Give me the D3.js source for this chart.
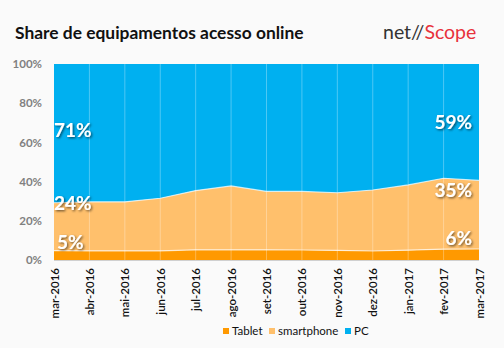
<!DOCTYPE html>
<html><head><meta charset="utf-8">
<script src="https://cdn.jsdelivr.net/npm/d3@7"></script>
<style>
html,body{margin:0;padding:0;background:#fafafa;}
svg{display:block;}
</style></head>
<body>
<svg id="c" width="504" height="348"></svg>
<script>
const months = ["mar-2016","abr-2016","mai-2016","jun-2016","jul-2016","ago-2016","set-2016","out-2016","nov-2016","dez-2016","jan-2017","fev-2017","mar-2017"];
const tablet = [4.8,4.7,4.7,4.7,5.2,5.2,5.2,5.1,4.9,4.6,5.0,5.5,5.6];
const smartphone = [24.4,25.0,25.0,26.8,30.2,32.6,29.8,29.9,29.4,31.1,33.3,36.2,35.0];
const pc = [70.8,70.3,70.3,68.5,64.6,62.2,65.0,65.0,65.7,64.3,61.7,58.3,59.4];
const seriesNames = ["Tablet","smartphone","PC"];
const yTicks = [0,0.2,0.4,0.6,0.8,1];

const colors = {Tablet:"#ff9900", smartphone:"#ffc06c", PC:"#00b0f0"};

const svg = d3.select("#c");
const W=504,H=348;
const m = {l:54, r:25, t:64, b:88};
const x = d3.scalePoint().domain(months).range([m.l, W-m.r]);
const y = d3.scaleLinear().domain([0,1]).range([H-m.b, m.t]);

const defs = svg.append("defs");
const f = defs.append("filter").attr("id","sh").attr("x","-20%").attr("y","-20%").attr("width","150%").attr("height","150%");
f.append("feDropShadow").attr("dx",1.2).attr("dy",1.2).attr("stdDeviation",0.8).attr("flood-color","#000").attr("flood-opacity",0.6);

// title
svg.append("text").attr("x",15).attr("y",39).text("Share de equipamentos acesso online")
  .attr("font-family","Lato, 'Open Sans', sans-serif").attr("font-weight","bold").attr("font-size",17.4).attr("fill","#111");
const logo = svg.append("text").attr("x",383).attr("y",39).attr("font-family","Lato, 'Open Sans', sans-serif").attr("font-size",19.5);
logo.append("tspan").text("net//").attr("fill","#333");
logo.append("tspan").text("Scope").attr("fill","#e8323c");

const table = months.map((mo,i)=>({month:mo, Tablet:tablet[i], smartphone:smartphone[i], PC:pc[i]}));
const stack = d3.stack().keys(seriesNames).offset(d3.stackOffsetExpand);
const layers = stack(table);
const area = d3.area().x(d=>x(d.data.month)).y0(d=>y(d[0])).y1(d=>y(d[1]));

svg.append("g").selectAll("path").data(layers).join("path")
  .attr("d",area).attr("fill",d=>colors[d.key]);
// boundary lines
const line = d3.line().x(d=>x(d.data.month)).y(d=>y(d[1]));
svg.append("g").selectAll("path").data(layers.slice(0,2)).join("path")
  .attr("d",line).attr("fill","none").attr("stroke","#fff").attr("stroke-opacity",0.7).attr("stroke-width",1.2);

// vertical gridlines
svg.append("g").selectAll("line").data(months.slice(1,-1)).join("line")
  .attr("x1",d=>x(d)).attr("x2",d=>x(d)).attr("y1",m.t).attr("y2",H-m.b)
  .attr("stroke","#fff").attr("stroke-opacity",0.3).attr("stroke-width",1);

// axes
const ya = d3.axisLeft(y).tickValues(yTicks).tickFormat(d3.format(".0%")).tickSize(0).tickPadding(12);
const gy = svg.append("g").attr("transform",`translate(${m.l},0)`).call(ya);
gy.select(".domain").remove();
gy.selectAll("text").attr("font-family","Lato, 'Open Sans', sans-serif").attr("font-weight","bold").attr("font-size",11.5).attr("fill","#808080");

svg.append("line").attr("x1",m.l).attr("x2",W-m.r).attr("y1",H-m.b+0.5).attr("y2",H-m.b+0.5).attr("stroke","#d0d0d0");

const xa = d3.axisBottom(x).tickSize(0).tickPadding(0);
const gx = svg.append("g").attr("transform",`translate(0,${H-m.b})`).call(xa);
gx.select(".domain").remove();
gx.selectAll("text").attr("transform","rotate(-90)").attr("text-anchor","end")
  .attr("x",-8).attr("y",0).attr("dy","0.35em")
  .attr("font-family","Lato, 'Open Sans', sans-serif").attr("font-weight",600).attr("font-size",11.5).attr("fill","#111");

// big labels
const first = 0, last = months.length-1;
const labelData = [
  {i:first, key:"PC", anchor:"start"},
  {i:first, key:"smartphone", anchor:"start"},
  {i:first, key:"Tablet", anchor:"start"},
  {i:last, key:"PC", anchor:"end"},
  {i:last, key:"smartphone", anchor:"end"},
  {i:last, key:"Tablet", anchor:"end"}
];
const labelY = {PC:[137,129], smartphone:[210,197], Tablet:[249,245]};
const fmt = d3.format(".0f");
svg.append("g").selectAll("text").data(labelData).join("text")
  .attr("x",d=>d.anchor==="start" ? x(months[d.i]) + (d.key==="Tablet"?3:0) : x(months[d.i]) - 7)
  .attr("y",d=>labelY[d.key][d.i===first?0:1])
  .attr("text-anchor",d=>d.anchor)
  .attr("font-family","Lato, 'Open Sans', sans-serif").attr("font-weight","bold").attr("font-size",19)
  .attr("fill","#fff").attr("filter","url(#sh)")
  .text(d=>fmt(table[d.i][d.key])+"%");

// legend
const lg = svg.append("g").attr("transform","translate(0,331)");
const lx = [223,269,345];
seriesNames.forEach((s,i)=>{
  lg.append("rect").attr("x",lx[i]).attr("y",-3).attr("width",6).attr("height",6).attr("fill",colors[s]);
  lg.append("text").attr("x",lx[i]+9).attr("y",0).attr("dy","0.35em").text(s)
    .attr("font-family","Lato, 'Open Sans', sans-serif").attr("font-size",11.5).attr("fill","#111");
});
</script>
</body></html>
